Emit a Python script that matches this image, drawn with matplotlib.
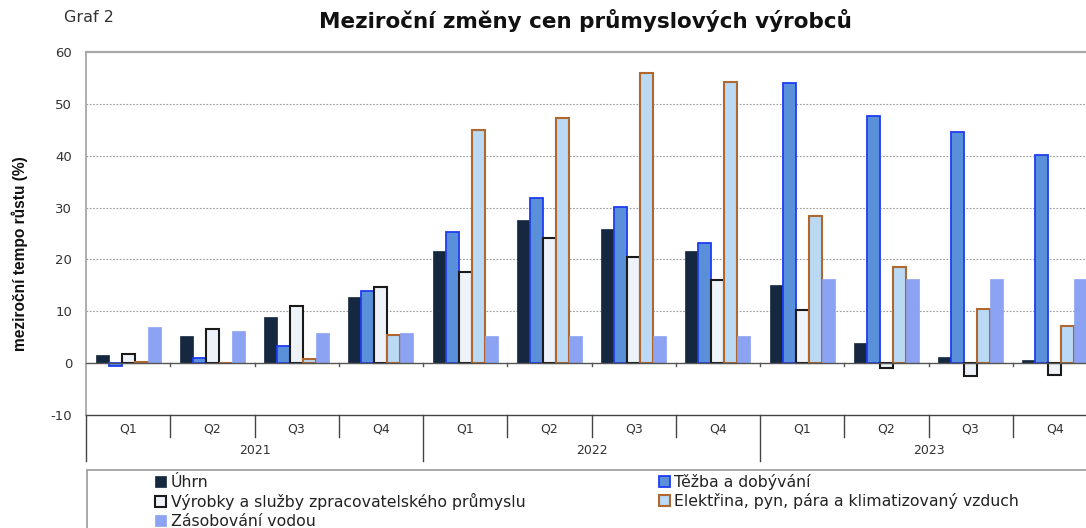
import matplotlib
matplotlib.use("Agg")
import matplotlib.pyplot as plt
import matplotlib.transforms as mtransforms
from matplotlib.patches import Rectangle
import numpy as np

plt.rcParams['font.family'] = ['DejaVu Sans']

quarters = ["Q1", "Q2", "Q3", "Q4"] * 3
years = ["2021", "2022", "2023"]

series_names = [
    "Úhrn",
    "Těžba a dobývání",
    "Výrobky a služby zpracovatelského průmyslu",
    "Elektřina, pyn, pára a klimatizovaný vzduch",
    "Zásobování vodou",
]

uhrn = [1.5, 5.3, 8.9, 12.8, 21.6, 27.6, 25.8, 21.6, 15.0, 3.8, 1.2, 0.6]
tezba = [-0.5, 0.9, 3.4, 13.9, 25.2, 31.9, 30.2, 23.2, 54.0, 47.6, 44.5, 40.2]
vyrobky = [1.8, 6.5, 11.0, 14.6, 17.6, 24.2, 20.4, 16.1, 10.3, -0.9, -2.4, -2.3]
elektrina = [0.3, 0.1, 0.8, 5.5, 45.0, 47.2, 56.0, 54.3, 28.3, 18.5, 10.5, 7.2]
voda = [7.0, 6.2, 5.9, 5.9, 5.3, 5.3, 5.3, 5.3, 16.3, 16.3, 16.3, 16.3]

yticks = [-10, 0, 10, 20, 30, 40, 50, 60]

styles = [
    dict(color="#15283F", edgecolor="#15283F", linewidth=0.5),
    dict(color="#5A8FD9", edgecolor="#1E3CF2", linewidth=1.3),
    dict(color="#EEF3FA", edgecolor="#1A1A1A", linewidth=1.5),
    dict(color="#B9D9F5", edgecolor="#B0682E", linewidth=1.5),
    dict(color="#8BA3F2", edgecolor="#8BA3F2", linewidth=0.5),
]

W, H = 1086, 528
fig = plt.figure(figsize=(W / 100, H / 100), dpi=100)
ax = fig.add_axes([86 / W, (H - 415) / H, (1097 - 86) / W, (415 - 52) / H])

n = len(quarters)
x = np.arange(n)
bw = 0.154
data = [uhrn, tezba, vyrobky, elektrina, voda]
bars = []
for i, (vals, st, name) in enumerate(zip(data, styles, series_names)):
    b = ax.bar(x + (i - 2) * bw, vals, width=bw, label=name, zorder=3, **st)
    bars.append(b)

ax.set_xlim(-0.5, n - 0.5)
ax.set_ylim(-10, 60)
ax.set_yticks(yticks)
ax.set_yticklabels([str(t) for t in yticks])
ax.tick_params(axis='y', length=0, pad=10, labelsize=9.5, labelcolor="#333333")
ax.set_xticks([])

for t in [10, 20, 30, 40, 50]:
    ax.axhline(t, color="#9a9a9a", linewidth=0.8, linestyle=(0, (1.5, 1.5)), zorder=1)
ax.axhline(0, color="#555555", linewidth=1.0, zorder=4)
for bnd in np.arange(0.5, n - 0.5, 1.0):
    ax.plot([bnd, bnd], [0, -0.6], color="#555555", linewidth=1.0, zorder=4)

ax.spines["right"].set_visible(False)
ax.spines["top"].set_color("#a8a8a8")
ax.spines["top"].set_linewidth(1.6)
ax.spines["left"].set_color("#a0a0a0")
ax.spines["left"].set_linewidth(1.2)
ax.spines["bottom"].set_color("#444444")
ax.spines["bottom"].set_linewidth(1.0)

trans = mtransforms.blended_transform_factory(ax.transData, ax.transAxes)
axh = (415 - 52)
q_depth = -(437 - 415) / axh
y_depth = -(461 - 415) / axh
for i in range(n):
    ax.text(x[i], -(429 - 415) / axh, quarters[i], transform=trans, ha="center",
            va="center", fontsize=9, color="#333333")
for bnd in np.arange(-0.5, n + 0.5, 1.0):
    k = int(round(bnd + 0.5))
    depth = y_depth if k % 4 == 0 else q_depth
    ax.plot([bnd, bnd], [0, depth], transform=trans, color="#444444",
            linewidth=1.0, clip_on=False)
for j, yr in enumerate(years):
    ax.text(4 * j + 1.5, -(450 - 415) / axh, yr, transform=trans, ha="center",
            va="center", fontsize=9, color="#333333")

fig.text(585 / W, 1 - 20 / H, "Meziroční změny cen průmyslových výrobců",
         ha="center", va="center", fontsize=15.5, fontweight="bold", color="#111111")
fig.text(64 / W, 1 - 18 / H, "Graf 2", ha="left", va="center", fontsize=11.5,
         color="#333333")
fig.text(20 / W, 1 - 254 / H, "meziroční tempo růstu (%)", rotation=90,
         ha="center", va="center", fontsize=11.2, fontweight="bold",
         family=["Liberation Sans Narrow", "Liberation Sans", "DejaVu Sans"],
         color="#111111")

fig.patches.append(Rectangle((87 / W, -0.2), 1.0, (H - 470) / H + 0.2,
                             transform=fig.transFigure, fill=False,
                             edgecolor="#9a9a9a", linewidth=1.2))

order = [0, 2, 4, 1, 3]
leg = fig.legend([bars[i] for i in order], [series_names[i] for i in order],
                 ncol=2, loc="upper left", bbox_to_anchor=(155 / W, 1 - 474 / H),
                 frameon=False, handlelength=0.7, handleheight=0.7,
                 handletextpad=0.3, labelspacing=0.22, columnspacing=8.5,
                 fontsize=11.3, borderpad=0, borderaxespad=0)
for t in leg.get_texts():
    t.set_color("#222222")

fig.savefig("out.png", dpi=100)
